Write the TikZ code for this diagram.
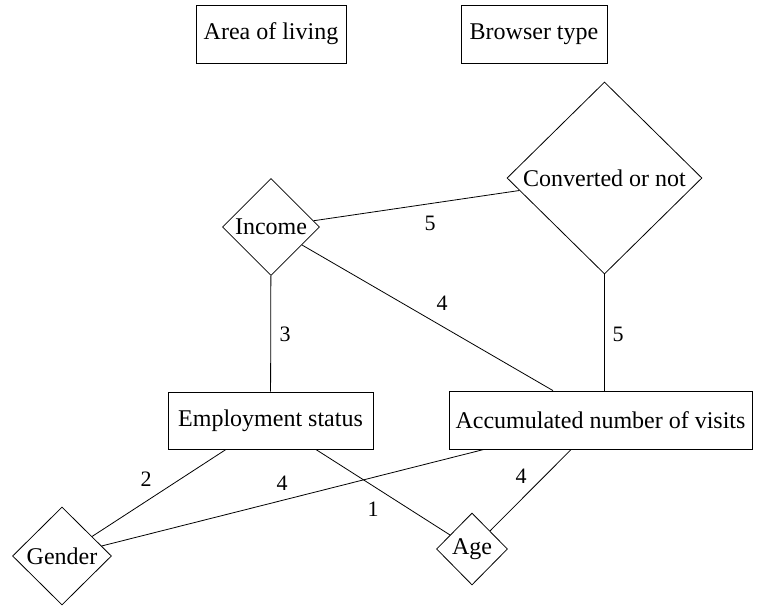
\documentclass[tikz,border=0pt]{standalone}
\usepackage{fontspec}
\setmainfont{Liberation Serif}
\usetikzlibrary{shapes.geometric}
\tikzset{
  box/.style={draw, line width=0.8pt, rectangle, inner sep=0pt, minimum height=58pt, font=\fontsize{24}{28}\selectfont},
  dia/.style={draw, line width=0.8pt, diamond, inner sep=0pt, font=\fontsize{24}{28}\selectfont},
  conn/.style={line width=0.8pt},
  lbl/.style={inner sep=0pt, font=\fontsize{22}{26}\selectfont}
}
\begin{document}
\begin{tikzpicture}[x=1pt,y=-1pt]
\useasboundingbox (0,0) rectangle (764,606);
\node[box, minimum width=150pt] (area) at (271,34) {Area of living};
\node[box, minimum width=146pt] (brow) at (534,34) {Browser type};
\node[dia, minimum width=195pt, minimum height=192pt] (conv) at (604.5,178) {Converted or not};
\node[dia, minimum width=97pt, minimum height=97pt] (inc) at (271,227) {Income};
\node[box, minimum width=205pt, minimum height=57pt] (emp) at (270.5,420.5) {Employment status};
\node[box, minimum width=303pt] (acc) at (600.5,420) {Accumulated number of visits};
\node[dia, minimum width=99pt, minimum height=98pt] (gen) at (62,556) {Gender};
\node[dia, minimum width=71pt, minimum height=72pt] (age) at (472,549) {Age};

\draw[conn] (inc) -- (conv);
\draw[conn] (inc) -- ([xshift=-47.5pt]acc.north);
\draw[conn] (inc) -- (emp);
\draw[conn] (conv) -- (conv |- acc.north);
\draw[conn] (emp) -- (gen);
\draw[conn] (acc) -- (gen);
\draw[conn] (emp) -- (age);
\draw[conn] (acc) -- (age);

\node[lbl] (l1) at (430,223) {5};
\node[lbl] (l2) at (442,303) {4};
\node[lbl] (l3) at (285,334) {3};
\node[lbl] (l4) at (618,334) {5};
\node[lbl] (l5) at (146,479) {2};
\node[lbl] (l6) at (282,483) {4};
\node[lbl] (l7) at (373,509) {1};
\node[lbl] (l8) at (521,476) {4};
\end{tikzpicture}
\end{document}
